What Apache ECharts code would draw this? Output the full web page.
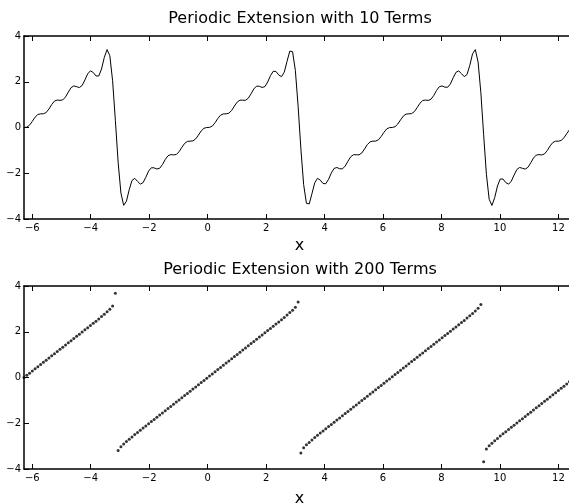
<!DOCTYPE html>
<html>
<head>
<meta charset="utf-8">
<script src="https://cdn.jsdelivr.net/npm/echarts@6/dist/echarts.min.js"></script>
<style>
html,body{margin:0;padding:0;background:#ffffff;}
#chart{width:569px;height:504px;}
</style>
</head>
<body>
<div id="chart"></div>
<script>
// ---- data ----
const titles = ['Periodic Extension with 10 Terms', 'Periodic Extension with 200 Terms'];
const xLabel = 'x';
const xTicks = [-6, -4, -2, 0, 2, 4, 6, 8, 10, 12];
const yTicks = [-4, -2, 0, 2, 4];
const xRange = [-6.2832, 12.5664];
const yRange = [-4, 4];

const xValues = [
-6.2832,-6.1885,-6.0937,-5.9990,-5.9043,-5.8096,-5.7149,-5.6201,-5.5254,-5.4307,
-5.3360,-5.2412,-5.1465,-5.0518,-4.9571,-4.8624,-4.7676,-4.6729,-4.5782,-4.4835,
-4.3887,-4.2940,-4.1993,-4.1046,-4.0099,-3.9151,-3.8204,-3.7257,-3.6310,-3.5362,
-3.4415,-3.3468,-3.2521,-3.1574,-3.0627,-2.9679,-2.8732,-2.7785,-2.6838,-2.5891,
-2.4943,-2.3996,-2.3049,-2.2102,-2.1155,-2.0207,-1.9260,-1.8313,-1.7366,-1.6418,
-1.5471,-1.4524,-1.3577,-1.2629,-1.1682,-1.0735,-0.9788,-0.8841,-0.7893,-0.6946,
-0.5999,-0.5052,-0.4104,-0.3157,-0.2210,-0.1263,-0.0316,0.0631,0.1579,0.2526,
0.3473,0.4420,0.5368,0.6315,0.7262,0.8209,0.9156,1.0104,1.1051,1.1998,
1.2945,1.3893,1.4840,1.5787,1.6734,1.7681,1.8629,1.9576,2.0523,2.1470,
2.2418,2.3365,2.4312,2.5259,2.6206,2.7154,2.8101,2.9048,2.9995,3.0942,
3.1890,3.2837,3.3784,3.4731,3.5678,3.6626,3.7573,3.8520,3.9467,4.0414,
4.1362,4.2309,4.3256,4.4203,4.5151,4.6098,4.7045,4.7992,4.8939,4.9887,
5.0834,5.1781,5.2728,5.3676,5.4623,5.5570,5.6517,5.7464,5.8412,5.9359,
6.0306,6.1253,6.2201,6.3148,6.4095,6.5042,6.5989,6.6936,6.7884,6.8831,
6.9778,7.0725,7.1673,7.2620,7.3567,7.4514,7.5461,7.6409,7.7356,7.8303,
7.9250,8.0198,8.1145,8.2092,8.3039,8.3987,8.4934,8.5881,8.6828,8.7775,
8.8723,8.9670,9.0617,9.1564,9.2511,9.3459,9.4406,9.5353,9.6300,9.7247,
9.8194,9.9142,10.0089,10.1036,10.1983,10.2931,10.3878,10.4825,10.5772,10.6719,
10.7667,10.8614,10.9561,11.0508,11.1456,11.2403,11.3350,11.4297,11.5244,11.6192,
11.7139,11.8086,11.9033,11.9981,12.0928,12.1875,12.2822,12.3769,12.4717,12.5664
];

const terms10 = [
0.0000,0.0147,0.1022,0.2697,0.4515,0.5680,0.5978,0.5983,0.6557,0.8066,
1.0029,1.1522,1.2009,1.1861,1.2064,1.3348,1.5482,1.7417,1.8188,1.7832,
1.7466,1.8367,2.0780,2.3461,2.4779,2.4069,2.2528,2.2511,2.5566,3.0658,
3.4064,3.1378,2.0440,0.3151,-1.5170,-2.8644,-3.4024,-3.2212,-2.7178,-2.3175,
-2.2239,-2.3539,-2.4747,-2.4119,-2.1735,-1.9035,-1.7583,-1.7639,-1.8156,-1.7828,
-1.6210,-1.4006,-1.2361,-1.1839,-1.1987,-1.1797,-1.0621,-0.8714,-0.6963,-0.6077,
-0.5969,-0.5861,-0.5003,-0.3331,-0.1512,-0.0336,-0.0005,0.0044,0.0627,0.2080,
0.3948,0.5395,0.5953,0.5959,0.6263,0.7473,0.9381,1.1126,1.1954,1.1924,
1.1897,1.2792,1.4732,1.6868,1.8085,1.8023,1.7499,1.7880,1.9856,2.2643,
2.4568,2.4495,2.2993,2.2211,2.4206,2.8925,3.3406,3.3158,2.4975,0.9337,
-0.9337,-2.4975,-3.3158,-3.3406,-2.8925,-2.4206,-2.2211,-2.2993,-2.4495,-2.4568,
-2.2643,-1.9856,-1.7880,-1.7499,-1.8023,-1.8085,-1.6868,-1.4732,-1.2792,-1.1897,
-1.1924,-1.1954,-1.1126,-0.9381,-0.7473,-0.6263,-0.5959,-0.5953,-0.5395,-0.3948,
-0.2080,-0.0627,-0.0044,0.0005,0.0336,0.1512,0.3331,0.5003,0.5861,0.5969,
0.6077,0.6963,0.8714,1.0621,1.1797,1.1987,1.1839,1.2361,1.4006,1.6210,
1.7828,1.8156,1.7639,1.7583,1.9035,2.1735,2.4119,2.4747,2.3539,2.2239,
2.3175,2.7178,3.2212,3.4024,2.8644,1.5170,-0.3151,-2.0440,-3.1378,-3.4064,
-3.0658,-2.5566,-2.2511,-2.2528,-2.4069,-2.4779,-2.3461,-2.0780,-1.8367,-1.7466,
-1.7832,-1.8188,-1.7417,-1.5482,-1.3348,-1.2064,-1.1861,-1.2009,-1.1522,-1.0029,
-0.8066,-0.6557,-0.5983,-0.5978,-0.5680,-0.4515,-0.2697,-0.1022,-0.0147,0.0000
];

const terms200 = [
0.0000,0.0947,0.1894,0.2842,0.3789,0.4736,0.5683,0.6630,0.7578,0.8525,
0.9472,1.0419,1.1367,1.2314,1.3261,1.4208,1.5155,1.6103,1.7050,1.7997,
1.8944,1.9892,2.0839,2.1786,2.2733,2.3680,2.4628,2.5575,2.6670,2.7680,
2.8720,2.9830,3.1210,3.6880,-3.1890,-3.0240,-2.9080,-2.8020,-2.7010,-2.6000,
-2.4943,-2.3996,-2.3049,-2.2102,-2.1155,-2.0207,-1.9260,-1.8313,-1.7366,-1.6418,
-1.5471,-1.4524,-1.3577,-1.2629,-1.1682,-1.0735,-0.9788,-0.8841,-0.7893,-0.6946,
-0.5999,-0.5052,-0.4104,-0.3157,-0.2210,-0.1263,-0.0316,0.0631,0.1579,0.2526,
0.3473,0.4420,0.5368,0.6315,0.7262,0.8209,0.9156,1.0104,1.1051,1.1998,
1.2945,1.3893,1.4840,1.5787,1.6734,1.7681,1.8629,1.9576,2.0523,2.1470,
2.2418,2.3365,2.4312,2.5259,2.6206,2.7340,2.8370,2.9450,3.0690,3.3020,
-3.3020,-3.0690,-2.9450,-2.8370,-2.7340,-2.6206,-2.5259,-2.4312,-2.3365,-2.2418,
-2.1470,-2.0523,-1.9576,-1.8629,-1.7681,-1.6734,-1.5787,-1.4840,-1.3893,-1.2945,
-1.1998,-1.1051,-1.0104,-0.9156,-0.8209,-0.7262,-0.6315,-0.5368,-0.4420,-0.3473,
-0.2526,-0.1579,-0.0631,0.0316,0.1263,0.2210,0.3157,0.4104,0.5052,0.5999,
0.6946,0.7893,0.8841,0.9788,1.0735,1.1682,1.2629,1.3577,1.4524,1.5471,
1.6418,1.7366,1.8313,1.9260,2.0207,2.1155,2.2102,2.3049,2.3996,2.4943,
2.6000,2.7010,2.8020,2.9080,3.0240,3.1890,-3.6880,-3.1210,-2.9830,-2.8720,
-2.7680,-2.6670,-2.5575,-2.4628,-2.3680,-2.2733,-2.1786,-2.0839,-1.9892,-1.8944,
-1.7997,-1.7050,-1.6103,-1.5155,-1.4208,-1.3261,-1.2314,-1.1367,-1.0419,-0.9472,
-0.8525,-0.7578,-0.6630,-0.5683,-0.4736,-0.3789,-0.2842,-0.1894,-0.0947,0.0000
];

// ---- chart ----
const FONT = 'DejaVu Sans';
const fmt = v => (v < 0 ? '\u2212' + Math.abs(v) : String(v));

function xAxisDef(gridIndex, position, withLabels, gap) {
  return {
    type: 'value', gridIndex: gridIndex, position: position,
    min: xRange[0], max: xRange[1],
    axisLine: { show: true, onZero: false, lineStyle: { color: '#000', width: 1.5 } },
    axisTick: { show: true, inside: true, length: 5, customValues: xTicks, lineStyle: { color: '#000', width: 1 } },
    axisLabel: { show: withLabels, customValues: xTicks, margin: 4, fontFamily: FONT, fontSize: 10, color: '#000', formatter: fmt },
    splitLine: { show: false },
    name: withLabels ? xLabel : '', nameLocation: 'middle', nameGap: gap,
    nameTextStyle: { fontFamily: FONT, fontSize: 16, color: '#000' }
  };
}
function yAxisDef(gridIndex, position, withLabels) {
  return {
    type: 'value', gridIndex: gridIndex, position: position,
    min: yRange[0], max: yRange[1],
    axisLine: { show: true, onZero: false, lineStyle: { color: '#000', width: 1.5 } },
    axisTick: { show: true, inside: true, length: 5, customValues: yTicks, lineStyle: { color: '#000', width: 1 } },
    axisLabel: { show: withLabels, customValues: yTicks, margin: 3, fontFamily: FONT, fontSize: 10, color: '#000', formatter: fmt },
    splitLine: { show: false }
  };
}

const chart = echarts.init(document.getElementById('chart'), null, { renderer: 'canvas', width: 569, height: 504 });
chart.setOption({
  animation: false,
  backgroundColor: '#ffffff',
  title: [
    { text: titles[0], left: 300, top: 11, padding: 0, textAlign: 'center',
      textStyle: { fontFamily: FONT, fontSize: 16, fontWeight: 'normal', color: '#000' } },
    { text: titles[1], left: 300, top: 262, padding: 0, textAlign: 'center',
      textStyle: { fontFamily: FONT, fontSize: 16, fontWeight: 'normal', color: '#000' } }
  ],
  grid: [
    { left: 24, right: -6, top: 36, height: 183, outerBoundsMode: 'none', containLabel: false },
    { left: 24, right: -6, top: 286, height: 183, outerBoundsMode: 'none', containLabel: false }
  ],
  xAxis: [xAxisDef(0, 'bottom', true, 19), xAxisDef(0, 'top', false, 19), xAxisDef(1, 'bottom', true, 22), xAxisDef(1, 'top', false, 19)],
  yAxis: [yAxisDef(0, 'left', true), yAxisDef(0, 'right', false), yAxisDef(1, 'left', true), yAxisDef(1, 'right', false)],
  series: [
    { type: 'line', xAxisIndex: 0, yAxisIndex: 0,
      data: xValues.map((x, i) => [x, terms10[i]]),
      symbol: 'none', showSymbol: false, smooth: false,
      lineStyle: { color: '#000', width: 1 } },
    { type: 'scatter', xAxisIndex: 2, yAxisIndex: 2,
      data: xValues.map((x, i) => [x, terms200[i]]),
      symbol: 'circle', symbolSize: 3,
      itemStyle: { color: '#000' } }
  ]
});
</script>
</body>
</html>
